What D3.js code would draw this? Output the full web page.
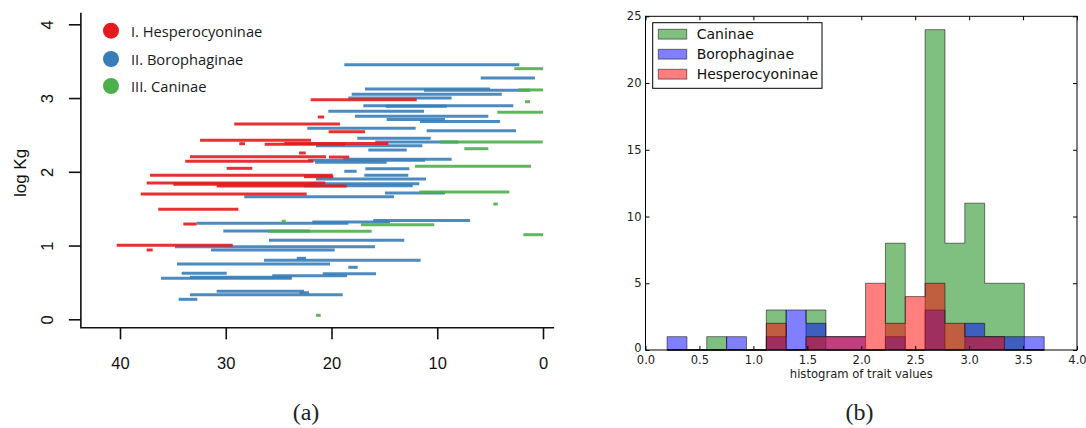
<!DOCTYPE html>
<html>
<head>
<meta charset="utf-8">
<script src="https://cdn.jsdelivr.net/npm/d3@7"></script>
<style>
  html, body { margin: 0; padding: 0; background: #fff; }
  svg { display: block; }
</style>
</head>
<body>
<svg id="fig" width="1086" height="428"></svg>
<script>
// ---------- (a) stratigraphic ranges: [first appearance (Ma), last appearance (Ma), log10 body mass]
const hesperocyoninae = [
  [21.97, 11.94, 2.978], [21.3, 20.7, 2.743], [29.19, 19.2, 2.648], [20.27, 16.83, 2.544],
  [32.43, 21.94, 2.427], [28.72, 28.18, 2.381], [26.32, 18.72, 2.373], [24.46, 14.63, 2.384],
  [23.07, 22.44, 2.255], [33.38, 20.52, 2.205], [20.24, 18.32, 2.2], [33.83, 21.72, 2.142],
  [29.91, 27.49, 2.047], [37.16, 19.89, 1.953], [22.6, 19.83, 1.934], [37.48, 20.59, 1.848],
  [34.96, 21.4, 1.83], [30.86, 18.56, 1.807], [38.04, 22.35, 1.699], [36.38, 28.81, 1.492],
  [34.01, 32.75, 1.292], [40.31, 29.34, 1.003], [37.48, 36.91, 0.94]
];
const borophaginae = [
  [18.79, 2.24, 3.452], [5.89, 0.76, 3.272], [16.83, 5.01, 3.123], [11.25, 1.23, 3.105],
  [18.09, 3.9, 3.05], [18.41, 8.64, 3.0], [16.99, 2.81, 2.896], [14.87, 9.1, 2.888],
  [20.3, 11.25, 2.82], [17.78, 5.17, 2.752], [14.78, 9.27, 2.709], [11.63, 4.07, 2.682],
  [22.29, 12.04, 2.59], [11.0, 2.55, 2.557], [17.56, 10.62, 2.454], [15.86, 8.0, 2.404],
  [21.47, 11.41, 2.354], [16.52, 12.89, 2.296], [22.22, 11.16, 2.156], [21.56, 14.78, 2.129],
  [18.88, 8.64, 2.17], [16.8, 12.64, 2.042], [18.79, 17.62, 2.007], [16.9, 12.74, 1.953],
  [21.47, 11.06, 1.902], [22.19, 11.7, 1.839], [22.6, 12.32, 1.812], [14.94, 9.27, 1.713],
  [28.25, 14.09, 1.662], [32.75, 18.41, 1.302], [21.82, 14.47, 1.32], [16.05, 6.9, 1.34],
  [30.23, 22.03, 1.197], [25.91, 13.12, 1.071], [34.8, 15.89, 0.984], [31.39, 19.7, 0.94],
  [26.38, 11.57, 0.8], [23.29, 22.41, 0.827], [34.61, 20.14, 0.75], [18.41, 17.52, 0.705],
  [34.17, 29.91, 0.624], [20.83, 15.79, 0.618], [25.6, 18.53, 0.591], [36.12, 23.76, 0.556],
  [33.38, 23.76, 0.569], [30.86, 22.6, 0.38], [23.04, 22.13, 0.361], [33.38, 18.94, 0.334],
  [34.45, 32.69, 0.271]
];
const caninae = [
  [2.71, 0, 3.398], [2.33, 0, 3.11], [1.7, 1.23, 2.95], [4.32, 0, 2.807],
  [9.74, 0.03, 2.404], [7.44, 5.17, 2.313], [12.1, 1.13, 2.075], [11.7, 3.19, 1.726],
  [4.7, 4.28, 1.563], [24.71, 24.33, 1.329], [17.21, 10.28, 1.283], [25.98, 16.2, 1.193],
  [1.86, 0, 1.147], [21.47, 21.02, 0.054]
];
const subfamilyLabels = ["I. Hesperocyoninae", "II. Borophaginae", "III. Caninae"];
const timeTicks = [40, 30, 20, 10, 0];
const massTicks = [0, 1, 2, 3, 4];

// ---------- (b) histograms of the trait, shared bins
const binEdges = [0.200, 0.384, 0.568, 0.752, 0.936, 1.120, 1.304, 1.488, 1.672, 1.856,
                  2.040, 2.224, 2.408, 2.592, 2.776, 2.960, 3.144, 3.328, 3.512, 3.696];
const caninaeCounts         = [0, 0, 1, 0, 0, 3, 0, 3, 0, 0, 0, 8, 0, 24, 8, 11, 5, 5, 0];
const borophaginaeCounts    = [1, 0, 0, 1, 0, 1, 3, 2, 1, 1, 0, 1, 0, 3, 0, 2, 1, 1, 1];
const hesperocyoninaeCounts = [0, 0, 0, 0, 0, 2, 0, 1, 1, 1, 5, 2, 4, 5, 2, 1, 1, 0, 0];
const histLabels = ["Caninae", "Borophaginae", "Hesperocyoninae"];
const traitTicks = [0, 0.5, 1, 1.5, 2, 2.5, 3, 3.5, 4];
const countTicks = [0, 5, 10, 15, 20, 25];

const svg = d3.select("#fig");

// =============== panel (a) ===============
const RED = "#e41a1c", BLUE = "#377eb8", GREEN = "#4daf4a";
const xA = d3.scaleLinear().domain([40, 0]).range([120, 543]);
const yA = d3.scaleLinear().domain([0, 4]).range([319.3, 24.3]);
const xLimA = [43.7, -1.05], yLimA = [-0.114, 4.157];
const gA = svg.append("g");

[[borophaginae, BLUE], [hesperocyoninae, RED], [caninae, GREEN]].forEach(([rows, col]) => {
  gA.append("g").selectAll("line").data(rows).join("line")
    .attr("x1", d => xA(d[0])).attr("x2", d => xA(d[1]))
    .attr("y1", d => yA(d[2])).attr("y2", d => yA(d[2]))
    .attr("stroke", col).attr("stroke-width", 3).attr("stroke-opacity", 0.9);
});

// L-shaped frame
gA.append("path")
  .attr("d", `M${xA(xLimA[0])},${yA(yLimA[1])}V${yA(yLimA[0])}H${xA(xLimA[1])}`)
  .attr("fill", "none").attr("stroke", "#111").attr("stroke-width", 1.6);

const axYA = gA.append("g").attr("transform", `translate(${xA(xLimA[0])},0)`)
  .call(d3.axisLeft(yA).tickValues(massTicks).tickSize(12).tickSizeOuter(0).tickFormat(d3.format("d")));
axYA.select(".domain").remove();
axYA.selectAll("line").attr("stroke", "#111").attr("stroke-width", 1.6);
axYA.selectAll("text")
  .attr("x", null).attr("y", null).attr("dy", null)
  .attr("transform", "translate(-28,0) rotate(-90)")
  .attr("text-anchor", "middle")
  .attr("font-family", "Liberation Sans, Arial, sans-serif").attr("font-size", 16.5).attr("fill", "#111");

const axXA = gA.append("g").attr("transform", `translate(0,${yA(yLimA[0])})`)
  .call(d3.axisBottom(xA).tickValues(timeTicks).tickSize(11.6).tickSizeOuter(0).tickFormat(d3.format("d")));
axXA.select(".domain").remove();
axXA.selectAll("line").attr("stroke", "#111").attr("stroke-width", 1.6);
axXA.selectAll("text").attr("y", 41.3).attr("dy", null)
  .attr("font-family", "Liberation Sans, Arial, sans-serif").attr("font-size", 16.5).attr("fill", "#111");

svg.append("text").attr("transform", "translate(25.5,173) rotate(-90)")
  .attr("text-anchor", "middle")
  .attr("font-family", "Liberation Sans, Arial, sans-serif").attr("font-size", 17).attr("fill", "#111")
  .text("log Kg");

// legend
const legA = gA.append("g");
[RED, BLUE, GREEN].forEach((c, i) => {
  const cy = [30.7, 59, 86][i];
  legA.append("circle").attr("cx", 111).attr("cy", cy).attr("r", 8).attr("fill", c);
  legA.append("text").attr("x", 131).attr("y", cy).attr("dominant-baseline", "central")
    .attr("font-family", "Open Sans, sans-serif").attr("font-size", 14.7).attr("fill", "#1a1a1a")
    .text(subfamilyLabels[i]);
});

svg.append("text").attr("x", 306).attr("y", 420).attr("text-anchor", "middle")
  .attr("font-family", "Liberation Serif, serif").attr("font-size", 24).attr("fill", "#222").text("(a)");

// =============== panel (b) ===============
const xB = d3.scaleLinear().domain([0, 4]).range([645.5, 1077]);
const yB = d3.scaleLinear().domain([0, 25]).range([350, 16.3]);
const gB = svg.append("g");

const stepArea = d3.area().curve(d3.curveStepAfter)
  .x(d => xB(d.x)).y0(yB(0)).y1(d => yB(d.y));
function stepPoints(counts) {
  const pts = counts.map((c, i) => ({ x: binEdges[i], y: c }));
  pts.push({ x: binEdges[counts.length], y: counts[counts.length - 1] });
  return pts;
}
const histSeries = [
  [caninaeCounts, "#008000"],
  [borophaginaeCounts, "#0000ff"],
  [hesperocyoninaeCounts, "#ff0000"]
];
histSeries.forEach(([counts, col]) => {
  gB.append("path").datum(stepPoints(counts)).attr("d", stepArea)
    .attr("fill", col).attr("fill-opacity", 0.5)
    .attr("stroke", "#000").attr("stroke-opacity", 0.5).attr("stroke-width", 1);
});

const tickFont = "DejaVu Sans, sans-serif";
function styleAxis(g, showText) {
  g.select(".domain").remove();
  g.selectAll("line").attr("stroke", "#000").attr("stroke-width", 1);
  g.selectAll("text").attr("font-family", tickFont).attr("font-size", 11.5).attr("fill", "#222");
  if (!showText) g.selectAll("text").remove();
}
gB.append("g").attr("transform", `translate(0,${yB(0)})`)
  .call(d3.axisBottom(xB).tickValues(traitTicks).tickSize(-4).tickPadding(6).tickFormat(d3.format(".1f")))
  .call(g => styleAxis(g, true));
gB.append("g").attr("transform", `translate(0,${yB(25)})`)
  .call(d3.axisTop(xB).tickValues(traitTicks).tickSize(-4))
  .call(g => styleAxis(g, false));
gB.append("g").attr("transform", `translate(${xB(0)},0)`)
  .call(d3.axisLeft(yB).tickValues(countTicks).tickSize(-4).tickPadding(4).tickFormat(d3.format("d")))
  .call(g => styleAxis(g, true))
  .call(g => g.selectAll(".tick").filter(d => d === 0).select("text").attr("dy", "0.1em"));
gB.append("g").attr("transform", `translate(${xB(4)},0)`)
  .call(d3.axisRight(yB).tickValues(countTicks).tickSize(-4))
  .call(g => styleAxis(g, false));

gB.append("rect")
  .attr("x", xB(0)).attr("y", yB(25))
  .attr("width", xB(4) - xB(0)).attr("height", yB(0) - yB(25))
  .attr("fill", "none").attr("stroke", "#000").attr("stroke-width", 1);

gB.append("text").attr("x", (xB(0) + xB(4)) / 2).attr("y", 377.5).attr("text-anchor", "middle")
  .attr("font-family", tickFont).attr("font-size", 11.6).attr("fill", "#222")
  .text("histogram of trait values");

// legend
const legB = gB.append("g");
legB.append("rect").attr("x", 652.7).attr("y", 22.7).attr("width", 169.3).attr("height", 65.6)
  .attr("fill", "#fff").attr("stroke", "#000").attr("stroke-width", 1);
histSeries.forEach(([, col], i) => {
  const cy = 34.2 + 20 * i;
  legB.append("rect").attr("x", 658.3).attr("y", cy - 4.9).attr("width", 28.4).attr("height", 9.8)
    .attr("fill", col).attr("fill-opacity", 0.5)
    .attr("stroke", "#000").attr("stroke-opacity", 0.5).attr("stroke-width", 1);
  legB.append("text").attr("x", 696.7).attr("y", cy).attr("dominant-baseline", "central")
    .attr("font-family", tickFont).attr("font-size", 14).attr("fill", "#111")
    .text(histLabels[i]);
});

svg.append("text").attr("x", 859.5).attr("y", 420).attr("text-anchor", "middle")
  .attr("font-family", "Liberation Serif, serif").attr("font-size", 24).attr("fill", "#222").text("(b)");
</script>
</body>
</html>
